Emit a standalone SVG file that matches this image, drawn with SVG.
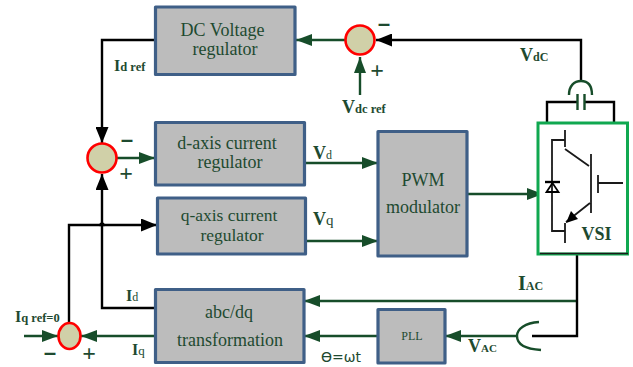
<svg xmlns="http://www.w3.org/2000/svg" width="633" height="367" viewBox="0 0 633 367">
<defs>
<style>
.box{fill:#bcbcbc;stroke:#3f5f87;stroke-width:3.2;stroke-linejoin:round}
.sum{fill:#d0d0a8;stroke:#f00;stroke-width:2.6}
.t{font-family:"Liberation Serif",serif;fill:#1e4a30;font-size:18px;text-anchor:middle}
.b{font-family:"Liberation Serif",serif;fill:#1e4a30;font-weight:bold;font-size:16px}
.s{font-size:12.500px}
.m{font-family:"Liberation Serif",serif;fill:#1e4a30;font-weight:bold;font-size:28px;text-anchor:middle}
.p{font-family:"Liberation Serif",serif;fill:#1e4a30;font-weight:bold;font-size:24px;text-anchor:middle}
.k{fill:none;stroke:#000;stroke-width:2.4}
.g{fill:none;stroke:#174d2a;stroke-width:2.4}
.d{fill:none;stroke:#1a1a1a;stroke-width:1.800}
</style>
<marker id="ag" markerUnits="userSpaceOnUse" markerWidth="17" markerHeight="12" refX="16" refY="6" orient="auto"><path d="M0 0L16 6L0 12z" fill="#174d2a"/></marker>
<marker id="ak" markerUnits="userSpaceOnUse" markerWidth="17" markerHeight="13" refX="16" refY="6.500" orient="auto"><path d="M0 0L16 6.500L0 13z" fill="#000"/></marker>
</defs>
<g id="connectors">
<path class="g" marker-end="url(#ag)" d="M345 40H296"/>
<path class="k" marker-end="url(#ak)" d="M581 80V40H376"/>
<path class="g" marker-end="url(#ag)" d="M360 95V57"/>
<path class="k" marker-end="url(#ak)" d="M155 40H102V143"/>
<path class="g" marker-end="url(#ag)" d="M117 158H155"/>
<path class="g" marker-end="url(#ag)" d="M304 163H378"/>
<path class="g" marker-end="url(#ag)" d="M305 241H378"/>
<path class="g" marker-end="url(#ag)" d="M467 194H543"/>
<path class="k" marker-end="url(#ak)" d="M155 308H102V174"/>
<path class="k" marker-end="url(#ak)" d="M69 323V225H157"/>
<path class="g" marker-end="url(#ag)" d="M24 336H58"/>
<path class="g" marker-end="url(#ag)" d="M155 336H81"/>
<path class="g" marker-end="url(#ag)" d="M577 301H304"/>
<path class="g" marker-end="url(#ag)" d="M378 336H304"/>
<path class="g" marker-end="url(#ag)" d="M517 336H445"/>
<path class="k" d="M577 255V336H532"/>
<path class="g" d="M539 322C525 323 517 329 517 336C517 344 525 349 541 350"/>
<path class="g" d="M569 95C569 86 574 81 581 81C588 81 592 86 592 95"/>
<path class="k" d="M547 122V102H577M584 102H614V122"/>
<path class="g" d="M577.500 94V110M584.500 94V110"/>
<path class="k" stroke-linecap="round" d="M100 225Q102 222 104 225"/>
</g>
<g id="dc-voltage-regulator"><rect class="box" x="155.500" y="7" width="139.500" height="67.500"/><text class="t" x="222.500" y="36">DC Voltage</text><text class="t" x="225" y="55">regulator</text></g>
<g id="d-axis-regulator"><rect class="box" x="155.500" y="122.500" width="149" height="62.500"/><text class="t" x="227" y="149">d-axis current</text><text class="t" x="230" y="168">regulator</text></g>
<g id="q-axis-regulator"><rect class="box" x="157.500" y="198" width="148" height="56"/><text class="t" style="font-size:17.500px" x="229" y="221">q-axis current</text><text class="t" style="font-size:17.500px" x="232" y="241">regulator</text></g>
<g id="abc-dq"><rect class="box" x="155.500" y="289.500" width="148.500" height="73"/><text class="t" x="229" y="318">abc/dq</text><text class="t" x="230" y="346">transformation</text></g>
<g id="pwm-modulator"><rect class="box" x="378" y="131.500" width="89" height="124.500"/><text class="t" x="423" y="186">PWM</text><text class="t" x="423" y="213">modulator</text></g>
<g id="pll"><rect class="box" x="378" y="309.500" width="67" height="53.500"/><text class="t" style="font-size:12px" x="412" y="340">PLL</text></g>
<g id="sum-dc"><circle class="sum" cx="360" cy="40" r="14.500"/></g>
<g id="sum-d"><circle class="sum" cx="102" cy="158" r="14.500"/></g>
<g id="sum-q"><ellipse class="sum" cx="69.500" cy="336" rx="11" ry="13"/></g>
<g id="vsi">
<rect x="538" y="123" width="89.500" height="131" fill="#fff" stroke="#10a850" stroke-width="3"/>
<path d="M540 253.500H628" stroke="#1a1a1a" stroke-width="1.500" fill="none"/>
<path class="d" d="M565 130V147M565 140H552V231H565M565 223V243M565 149L589 166M591 154V213M590 203L566 222M598 175V193M598 183H623"/>
<path fill="#000" d="M566 223L571 211L578 219z"/>
<path d="M545 182H560" stroke="#000" stroke-width="2.400"/>
<path d="M552.500 183L546.500 192H558.500z" fill="none" stroke="#000" stroke-width="1.800"/>
<text class="b" x="596.500" y="240" style="font-size:18px" text-anchor="middle">VSI</text>
</g>
<g id="labels">
<text class="b" x="114" y="71">I<tspan class="s">d ref</tspan></text>
<text class="b" x="342" y="113" style="font-size:18px">V<tspan class="s">dc ref</tspan></text>
<text class="b" x="520" y="61" style="font-size:18px">V<tspan class="s" style="font-size:12px">dC</tspan></text>
<text class="b" x="313" y="159" style="font-size:18px">V<tspan class="s" style="font-size:12px;font-weight:normal">d</tspan></text>
<text class="b" x="313" y="225" style="font-size:18px">V<tspan class="s" style="font-size:15px;font-weight:normal">q</tspan></text>
<text class="b" x="518" y="290" style="font-size:20px">I<tspan class="s" style="font-size:12px">AC</tspan></text>
<text class="b" x="468" y="352" style="font-size:18px">V<tspan class="s" style="font-size:11px">AC</tspan></text>
<text class="b" x="126" y="301" style="font-size:16px">I<tspan class="s" style="font-size:12px;font-weight:normal">d</tspan></text>
<text class="b" x="132" y="355" style="font-size:16px">I<tspan class="s" style="font-size:13px;font-weight:normal">q</tspan></text>
<text class="b" x="15" y="322" style="font-size:16px">I<tspan class="s">q ref=0</tspan></text>
<text x="321" y="362" style="font-family:'DejaVu Sans',sans-serif;font-size:14px;fill:#1e4a30">ϴ=ωt</text>
<text class="m" x="127" y="147" textLength="14" lengthAdjust="spacingAndGlyphs">-</text>
<text class="p" x="126" y="181">+</text>
<text class="m" x="384" y="31" textLength="14" lengthAdjust="spacingAndGlyphs">-</text>
<text class="p" x="377" y="78">+</text>
<text class="m" x="50" y="360" textLength="14" lengthAdjust="spacingAndGlyphs">-</text>
<text class="p" x="89" y="361">+</text>
</g>
</svg>
